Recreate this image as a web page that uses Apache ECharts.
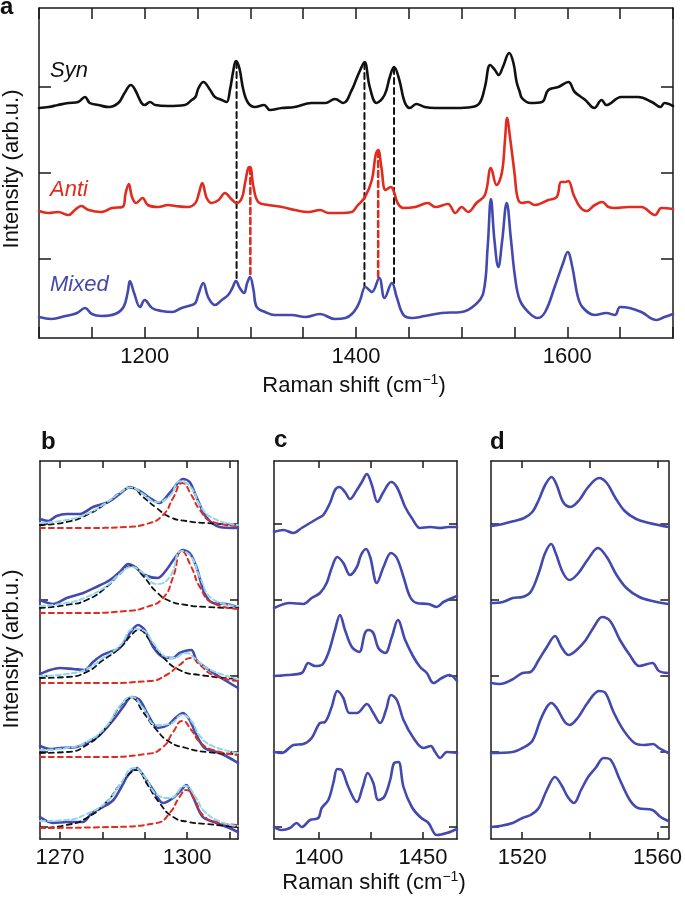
<!DOCTYPE html>
<html><head><meta charset="utf-8">
<script src="https://cdn.jsdelivr.net/npm/echarts@6/dist/echarts.min.js"></script>
<style>html,body{margin:0;padding:0;background:#fff}#c{width:685px;height:903px}</style>
</head><body><div id="c"></div>
<script>
// ---------- Panel a: full spectra (x: Raman shift cm-1, y: intensity arb.u. incl. offset) ----------
const synSpec = [[1100,230],[1109,231],[1118,233],[1128,235],[1137,236],[1143.5,241],[1148,235],[1156,233],[1166,231],[1175,235],[1181,245],[1187,253],[1191,248],[1197,235],[1200,233],[1205,236],[1210,233],[1222,232],[1238,233],[1244.5,238],[1248,241],[1251,250],[1255.5,256],[1262,248],[1266.5,241],[1273,238],[1277.5,236],[1280.7,248],[1284,268],[1286.4,277],[1289.6,270],[1293.4,248],[1298,235],[1304.4,231],[1313,233],[1318.6,228],[1329.7,230],[1342,231],[1358,235],[1371,235],[1380,239],[1388,235],[1396,248],[1400,258],[1404,268],[1408,276],[1413,251],[1419.5,235],[1427,243],[1432,261],[1436,271],[1441,258],[1446,236],[1451,230],[1457,234],[1465,231],[1475,230],[1494,230],[1509.5,231],[1517,235],[1522,251],[1527,273],[1531.5,268],[1535,263],[1539,271],[1545,285],[1549,275],[1552,256],[1555,246],[1557,240],[1565,235],[1576,236],[1582,248],[1591.5,251],[1601,256],[1607,246],[1617,238],[1625.5,230],[1632.5,238],[1637,233],[1651,241],[1667,241],[1680,236],[1688,231],[1692,235],[1700,232]];
const antiSpec = [[1100,127],[1109,125],[1118,126],[1128,123],[1134,128],[1140,132],[1147,128],[1159,126],[1169,130],[1179,131],[1182,145],[1185,154],[1188,141],[1192,135],[1198,140],[1203,133],[1213,131],[1222,133],[1229,132],[1241,131],[1248,135],[1251.4,145],[1254.5,155],[1258.7,140],[1263.4,135],[1270,138],[1276,145],[1282,139],[1287,135],[1292,140],[1295,155],[1298,170],[1299.7,171],[1303,151],[1307.5,136],[1317,133],[1330,131],[1342,128],[1355,126],[1366,128],[1374,125],[1386.5,125],[1396,126],[1401,132],[1408.5,141],[1415,158],[1418.6,183],[1421,188],[1424,171],[1428,148],[1433,151],[1436,146],[1439.4,135],[1444.7,130],[1456,131],[1468,135],[1475,131],[1487,134],[1494,125],[1500,131],[1506,126],[1514,135],[1522,143],[1527.7,170],[1533,153],[1538,165],[1541,198],[1543,220],[1545.7,201],[1550,165],[1553,140],[1557,135],[1563,136],[1569,133],[1582,138],[1590,141],[1594,156],[1598,156],[1601,157],[1606,143],[1612,131],[1618,127],[1626,133],[1633,136],[1639,131],[1645,130],[1658,131],[1670,131],[1683,123],[1689,130],[1700,129]];
const mixedSpec = [[1100,21],[1112,19],[1125,22],[1136,25],[1143.5,30],[1150,24],[1159,22],[1172,24],[1180,31],[1184,46],[1186,57],[1190,45],[1195.6,31],[1200,38],[1207,30],[1216,27],[1226,26],[1235,30],[1244.5,33],[1248,35],[1251,44],[1255.5,55],[1260,41],[1266.6,33],[1273,38],[1279,43],[1283,50],[1286.4,57],[1290,50],[1294,45],[1297,55],[1299.7,61],[1303,48],[1306,31],[1314,26],[1323,23],[1339,23],[1352,21],[1366,24],[1380,19],[1390,20],[1397,25],[1401,31],[1404,38],[1409,51],[1415,46],[1422,60],[1427,40],[1434,55],[1438.5,41],[1445,23],[1453,20],[1465,22],[1481,25],[1500,26],[1512.6,33],[1520.5,45],[1524.6,91],[1527.7,139],[1531,98],[1534.7,71],[1538.4,98],[1542.6,135],[1546.7,98],[1550.5,61],[1555,38],[1563,26],[1572,20],[1579,26],[1588,51],[1596,75],[1600.3,86],[1604.7,71],[1610,41],[1615,30],[1626,23],[1637,25],[1645,23],[1650,31],[1659,30],[1670,26],[1684.5,18],[1692,21],[1700,24]];
// guide lines: [x, yTop, yBottom]
const synGuides = [[1287,276,57],[1408,275,51],[1436,270,55]];
const antiGuides = [[1300,170,61],[1421,187,60]];
const aXTickLabels = [1200,1400,1600];
const aYTicks = [79,165,251];
const seriesNames = ['Syn','Anti','Mixed'];

// ---------- Panel b: 1265-1312 cm-1, measured + fits ----------
const bBlue1 = [[1265.3,320],[1267.3,318],[1269.2,323],[1271.6,325],[1274.7,325],[1277.8,332],[1281.4,337],[1284.1,345],[1286.5,352],[1288.8,348],[1291.2,341],[1293.4,336],[1295.9,346],[1297.8,356],[1299,360],[1300.6,357],[1302.2,342],[1304.5,322],[1307.7,312],[1312,311]];
const bBlack1 = [[1265.3,314],[1271.6,317],[1276.3,324],[1281,336],[1284.1,346],[1286.9,351],[1289.6,342],[1292.8,331],[1295.9,322],[1299.8,318],[1304.5,316],[1312,314]];
const bRed1 = [[1265.3,311],[1275.5,311],[1285.7,312],[1290.4,315],[1294.3,324],[1296.7,341],[1298.9,356],[1301,344],[1303,329],[1306.1,317],[1312,313]];
const bCyan1 = [[1265.3,316],[1271.6,319],[1276.3,325],[1281,336.5],[1284.1,346],[1286.7,351.5],[1289.6,345],[1292.8,337],[1295.9,343],[1298.3,357.7],[1301,351],[1303,334],[1306,321],[1312,314]];
const bBlue2 = [[1265.3,239],[1268.4,235],[1271.6,241],[1275.5,246],[1278.6,252],[1281.8,259],[1284.1,267],[1286.1,275],[1287.7,272],[1290,264],[1293.1,261],[1295.1,269],[1297.1,281],[1298.9,289],[1300.6,286],[1302.2,272],[1304.1,246],[1306.1,236],[1309.2,235],[1312,232]];
const bBlack2 = [[1265.3,231],[1271.6,234],[1276.3,239],[1281,252],[1284.1,265],[1286.9,273],[1289.6,263],[1292.8,247],[1295.9,238],[1299.8,234],[1304.5,232],[1312,231]];
const bRed2 = [[1265.3,226],[1275.5,226],[1285.7,228],[1290.4,232],[1294.3,241],[1296.7,262],[1298.7,288],[1301,272],[1303,252],[1306.1,236],[1312,230]];
const bCyan2 = [[1265.3,233],[1271.6,236],[1276.3,242],[1281,253],[1284.1,265],[1286.9,272],[1289.6,266],[1292.8,255],[1295.9,262],[1298.7,288],[1301,282],[1303,262],[1306,240],[1312,233]];
const bBlue3 = [[1265.3,165],[1267.7,169],[1270,171],[1273.1,170],[1275.9,169],[1277.8,177],[1280,184],[1281.8,187],[1284.1,191],[1286.5,206],[1288.4,214],[1290,209],[1292,192],[1294.3,182],[1296.7,181],[1298.2,186],[1301,189],[1302.2,179],[1304.5,171],[1307.7,162],[1312,151]];
const bBlack3 = [[1265.3,161],[1271.6,162],[1276.3,167],[1280.2,179],[1284.1,191],[1287.3,206],[1288.5,209],[1291.2,199],[1294.3,182],[1298.2,169],[1303,164],[1312,160]];
const bRed3 = [[1265.3,156],[1279.4,156],[1291.2,158],[1295.1,164],[1298.2,174],[1300.9,181],[1303,174],[1306.1,164],[1312,158]];
const bCyan3 = [[1265.3,163],[1271.6,165],[1276.3,170],[1280.2,181],[1284.1,193],[1287.5,210],[1289.5,209],[1292,196],[1294.3,184],[1296.7,181],[1299.7,186],[1302,180],[1305,170],[1312,160]];
const bBlue4 = [[1265.3,93],[1267.7,90],[1270,91],[1273.9,92],[1276.7,97],[1279.4,104],[1282.6,119],[1284.9,132],[1286.9,142],[1288.8,139],[1290.8,124],[1293.1,111],[1295.5,114],[1297.5,122],[1299,126],[1300.6,119],[1302.2,104],[1304.1,91],[1306.9,87],[1309.2,83],[1312,76]];
const bBlack4 = [[1265.3,86],[1271.6,87],[1276.3,94],[1281,112],[1284.1,132],[1286.9,141],[1289.6,127],[1292.8,109],[1295.9,97],[1299.8,91],[1304.5,87],[1312,85]];
const bRed4 = [[1265.3,82],[1279.4,82],[1290.4,85],[1294.3,92],[1296.7,107],[1298.9,118],[1301,109],[1303,97],[1306.1,89],[1312,84]];
const bCyan4 = [[1265.3,89],[1271.6,91],[1276.3,97],[1281,113],[1284.1,133],[1286.9,142],[1289.6,131],[1292.8,114],[1295.9,115],[1298.9,124],[1301,118],[1303,103],[1306,93],[1312,86]];
const bBlue5 = [[1265.3,22],[1268.4,16],[1271.6,17],[1275.5,17],[1277.5,26],[1280.2,32],[1282.6,39],[1284.5,52],[1286.1,64],[1288.1,71],[1289.6,64],[1292,49],[1294.3,36],[1296.7,41],[1298.6,49],[1299.8,54],[1301.4,42],[1303.7,22],[1306.9,16],[1310,11],[1312,7]];
const bBlack5 = [[1265.3,11],[1271.6,14],[1276.3,21],[1281,37],[1284.1,54],[1286.9,67],[1288.3,69],[1290.4,56],[1293.5,36],[1296.7,22],[1300.4,17],[1304.5,15],[1312,12]];
const bRed5 = [[1265.3,11],[1282.4,12],[1292.8,16],[1295.9,26],[1298.2,42],[1299.8,49],[1301.8,39],[1303.7,24],[1306.9,17],[1312,14]];
const bCyan5 = [[1265.3,18],[1271.6,19],[1276.3,25],[1281,37],[1284.1,54],[1287.5,71],[1290,62],[1293,44],[1296,41],[1299.5,53],[1302,42],[1304,28],[1308,17],[1312,13]];
const bXTicks = [1270,1280,1290,1300,1310];
const bXLabels = [1270,1300];

// ---------- Panel c: 1378-1466 cm-1 ----------
const cSpec1 = [[1378.4,307],[1382.9,309],[1387.7,306],[1391.7,311],[1395.7,316],[1399.7,321],[1402.1,324],[1405.3,336],[1407.7,349],[1409.8,352],[1412.5,347],[1414.9,340],[1418.2,349],[1420.6,357],[1423,365],[1425.4,354],[1428.1,337],[1431,347],[1434.6,357],[1437.4,352],[1441.4,332],[1444.6,321],[1448.6,311],[1453.4,312],[1458.2,311],[1462.2,312],[1466.3,312]];
const cSpec2 = [[1378.4,231],[1386.1,236],[1392.5,235],[1396.5,241],[1400.5,246],[1403.7,256],[1406.1,271],[1408.8,282],[1411.7,276],[1414.9,264],[1418.2,272],[1420.2,284],[1422.6,290],[1424.6,282],[1427.8,256],[1431,272],[1434.6,286],[1437.4,281],[1440.6,262],[1443.8,242],[1447,236],[1452.6,235],[1456.6,232],[1459.8,237],[1466.3,243]];
const cSpec3 = [[1378.4,163],[1384.5,164],[1391.7,166],[1394.9,176],[1398.1,173],[1401.3,174],[1404.5,186],[1407.7,209],[1410.1,224],[1412.5,209],[1415.8,192],[1419.3,187],[1422.1,206],[1423.7,209],[1426.1,206],[1428.5,191],[1431.8,186],[1435,202],[1437.9,219],[1441.4,199],[1445.4,182],[1448.6,172],[1451.8,166],[1455,156],[1459,161],[1462.7,164],[1466.3,158]];
const cSpec4 = [[1378.4,87],[1382.1,86],[1387.7,94],[1392.5,95],[1396.5,101],[1400.5,116],[1402.9,117],[1406.1,132],[1408.8,148],[1411.7,141],[1414.6,126],[1418.2,126],[1423,135],[1426.1,126],[1429.4,116],[1432.2,129],[1434.6,144],[1437.4,139],[1440.6,119],[1445.4,101],[1450.2,91],[1453.7,93],[1455.8,87],[1458.2,81],[1461.4,87],[1466.3,86]];
const cSpec5 = [[1378.4,12],[1382.1,9],[1386.1,11],[1389.3,16],[1391.7,12],[1395.7,19],[1399.7,21],[1401.3,31],[1404.5,39],[1406.9,56],[1408.8,70],[1410.9,69],[1414.1,52],[1418.2,37],[1421,52],[1423.4,66],[1426.1,56],[1428.5,39],[1431.3,42],[1434.2,59],[1436.1,76],[1438.2,77],[1440.6,52],[1444.6,32],[1448.6,22],[1452.6,16],[1456.6,4],[1461.4,6],[1466.3,10]];
const cXTicks = [1400,1425,1450];
const cXLabels = [1400,1450];

// ---------- Panel d: 1511-1563 cm-1 ----------
const dSpec1 = [[1510.8,313],[1514.3,315],[1517.7,318],[1520.6,321],[1523,327],[1524.9,339],[1526.8,354],[1528.7,362],[1530.2,354],[1532.1,337],[1534.3,332],[1536.9,339],[1539.3,351],[1542.7,361],[1545,356],[1547.4,342],[1550.3,328],[1553.7,320],[1557.5,316],[1563.2,312]];
const dSpec2 = [[1510.8,236],[1514.3,237],[1517.2,241],[1520.1,242],[1522.5,247],[1524.9,266],[1526.8,286],[1528.6,295],[1529.9,286],[1532.1,266],[1534,259],[1536.4,265],[1539.3,279],[1542.4,291],[1545,282],[1547.9,264],[1550.8,251],[1554.6,242],[1558.5,238],[1563.2,235]];
const dSpec3 = [[1510.8,156],[1513.4,155],[1516.8,159],[1520.1,166],[1522.5,167],[1524.9,179],[1527.3,192],[1529.7,203],[1531.6,192],[1533.7,184],[1536.4,190],[1538.8,199],[1541.2,212],[1543.6,222],[1546,218],[1548.9,199],[1551.8,184],[1554.6,173],[1558.5,176],[1560.4,168],[1563.2,166]];
const dSpec4 = [[1510.8,86],[1517.2,87],[1520.1,91],[1523,98],[1525.4,119],[1527.3,132],[1528.6,136],[1530.2,131],[1532.6,117],[1534,114],[1536.4,121],[1539.3,136],[1542.7,148],[1544.6,146],[1547,127],[1549.9,109],[1553.2,96],[1556.1,94],[1558.7,95],[1560.4,91],[1563.2,86]];
const dSpec5 = [[1510.8,12],[1513.4,13],[1517.2,16],[1520.1,21],[1522.5,24],[1524.9,31],[1527.3,49],[1529.7,62],[1531.6,54],[1533.5,42],[1535.3,36],[1537.4,49],[1539.5,62],[1541.7,71],[1544.1,81],[1546.2,79],[1548.9,59],[1551.8,39],[1554.2,31],[1558.5,29],[1560.9,22],[1563.2,18]];
const dXTicks = [1520,1540,1560];
const dXLabels = [1520,1560];
const bcdYTicks = [12,87,163,239,315];

// ---------- styling ----------
const F = '"Liberation Sans", Arial, Helvetica, sans-serif';
const BLACK = '#111111', RED = '#e12b1f', BLUE = '#4349ae', CYAN = '#93d5ea', AX = '#1a1a1a';

const grids = [
  {left:39, top:8, width:634, height:330},
  {left:40, top:461, width:198, height:378},
  {left:274, top:461, width:183, height:378},
  {left:491, top:461, width:182, height:378}
];
const xRanges = [[1100,1700],[1265.3,1312],[1378.4,1466.3],[1510.8,1563.2]];
const xTickSets = [null,bXTicks,cXTicks,dXTicks];
const xLabelSets = [aXTickLabels,bXLabels,cXLabels,dXLabels];

const xAxis = [], yAxis = [];
grids.forEach((g,i)=>{
  const tl = i===0 ? 11 : 7;
  ['bottom','top'].forEach((pos,k)=>{
    const ax = {
      type:'value', gridIndex:i, position:pos, min:xRanges[i][0], max:xRanges[i][1],
      axisLine:{show:true, onZero:false, lineStyle:{color:AX, width:1.5}},
      axisTick:{show:true, inside:true, length:tl, lineStyle:{color:AX, width:1.5}},
      splitLine:{show:false},
      axisLabel:{show:k===0, margin:8, fontSize:22, fontFamily:F, color:'#111',
        formatter: v => xLabelSets[i].indexOf(Math.round(v)) >= 0 ? String(Math.round(v)) : ''}
    };
    if (i===0) {
      ax.interval = 50;
    } else {
      ax.axisTick.customValues = xTickSets[i];
      ax.axisLabel.customValues = xLabelSets[i];
    }
    xAxis.push(ax);
  });
  ['left','right'].forEach(pos=>{
    yAxis.push({
      type:'value', gridIndex:i, position:pos, min:0, max: i===0 ? 330 : 378,
      axisLine:{show:true, onZero:false, lineStyle:{color:AX, width:1.5}},
      axisTick:{show:true, inside:true, length: i===0 ? 12 : 8, lineStyle:{color:AX, width:1.5},
                customValues: i===0 ? aYTicks : bcdYTicks},
      axisLabel:{show:false, customValues: i===0 ? aYTicks : bcdYTicks},
      splitLine:{show:false}
    });
  });
});

function ln(data, gi, color, width, dash, smooth, z) {
  return {
    type:'line', data:data, xAxisIndex:gi*2, yAxisIndex:gi*2,
    showSymbol:false, symbol:'none', smooth:smooth, clip:true,
    lineStyle:{color:color, width:width, type:dash || 'solid', cap:'round', join:'round'},
    z:z||2, silent:true, animation:false
  };
}

const series = [];
synGuides.forEach(g=>series.push(ln([[g[0],g[1]],[g[0],g[2]]],0,BLACK,2,[6,4],false,1)));
antiGuides.forEach(g=>series.push(ln([[g[0],g[1]],[g[0],g[2]]],0,RED,2.6,[6,4],false,1)));
series.push(ln(synSpec,0,BLACK,2.6,null,0.4,3));
series.push(ln(antiSpec,0,RED,2.6,null,0.4,3));
series.push(ln(mixedSpec,0,BLUE,2.6,null,0.4,3));

const bSets = [[bBlue1,bBlack1,bRed1,bCyan1],[bBlue2,bBlack2,bRed2,bCyan2],[bBlue3,bBlack3,bRed3,bCyan3],[bBlue4,bBlack4,bRed4,bCyan4],[bBlue5,bBlack5,bRed5,bCyan5]];
bSets.forEach(s=>{
  series.push(ln(s[0],1,BLUE,2.6,null,0.3,2));
  series.push(ln(s[1],1,BLACK,1.8,[5,4],0.55,3));
  series.push(ln(s[2],1,RED,2,[5,4],0.55,3));
  series.push(ln(s[3],1,CYAN,2,[5,3],0.5,4));
});
[cSpec1,cSpec2,cSpec3,cSpec4,cSpec5].forEach(s=>series.push(ln(s,2,BLUE,2.6,null,0.35,2)));
[dSpec1,dSpec2,dSpec3,dSpec4,dSpec5].forEach(s=>series.push(ln(s,3,BLUE,2.6,null,0.35,2)));

function txt(x,y,text,opt){
  return {type:'text', x:x, y:y, rotation:opt.rot||0, z:10, silent:true,
    style:Object.assign({text:text, fontFamily:F, fontSize:opt.size||22, fontWeight:opt.weight||'normal',
      fontStyle:opt.style||'normal', fill:opt.color||'#111', textAlign:opt.align||'left', textVerticalAlign:'middle'}, opt.extra||{})};
}
const ramanRich = {
  n:{fontSize:22, fontFamily:F, fill:'#111', lineHeight:26},
  s:{fontSize:14, fontFamily:F, fill:'#111', lineHeight:17, verticalAlign:'top'}
};
const graphic = [
  txt(0,7,'a',{weight:'bold',size:24}),
  txt(41,442,'b',{weight:'bold',size:24}),
  txt(274,440,'c',{weight:'bold',size:24}),
  txt(490,442,'d',{weight:'bold',size:24}),
  txt(50,71,seriesNames[0],{style:'italic',color:BLACK}),
  txt(50,190,seriesNames[1],{style:'italic',color:RED}),
  txt(50,285,seriesNames[2],{style:'italic',color:BLUE}),
  txt(12,169,'Intensity (arb.u.)',{rot:Math.PI/2,align:'center'}),
  txt(12,649,'Intensity (arb.u.)',{rot:Math.PI/2,align:'center'}),
  txt(354,386,'{n|Raman shift (cm}{s|−1}{n|)}',{align:'center',extra:{rich:ramanRich}}),
  txt(374,883,'{n|Raman shift (cm}{s|−1}{n|)}',{align:'center',extra:{rich:ramanRich}})
];

const chart = echarts.init(document.getElementById('c'), null, {renderer:'canvas'});
chart.setOption({animation:false, backgroundColor:'#fff', grid:grids, xAxis:xAxis, yAxis:yAxis, series:series, graphic:graphic});
</script></body></html>
